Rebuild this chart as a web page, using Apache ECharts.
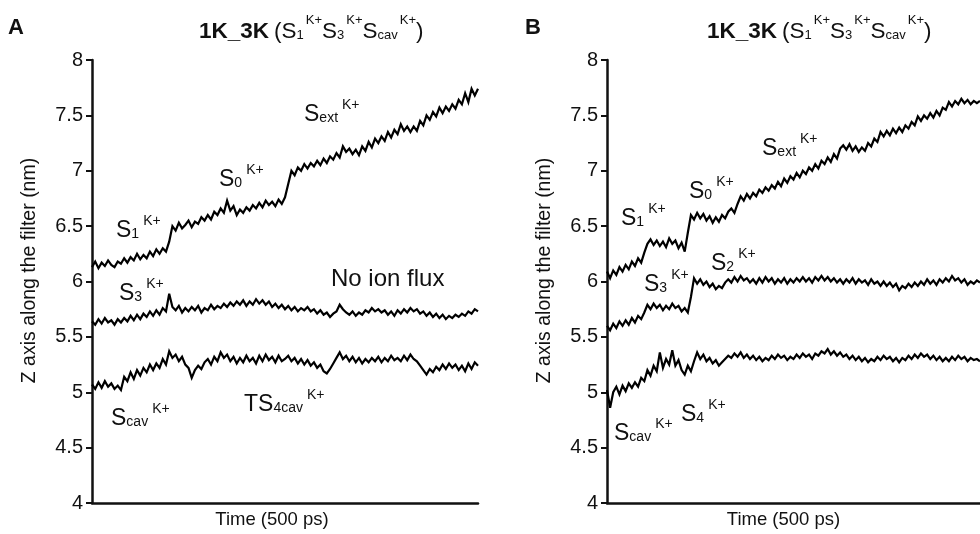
<!DOCTYPE html>
<html>
<head>
<meta charset="utf-8">
<script src="https://cdn.jsdelivr.net/npm/echarts@6/dist/echarts.min.js"></script>
<style>
  html, body { margin: 0; padding: 0; background: #fff; }
  #chart { width: 980px; height: 534px; }
</style>
</head>
<body>
<div id="chart"></div>
<script>
// ---------------- data ----------------
// Each trace: z position (nm) sampled evenly along the 500 ps time window
var yTicks = ['4', '4.5', '5', '5.5', '6', '6.5', '7', '7.5', '8'];

// Panel A
var A_top = [6.13,6.18,6.12,6.17,6.14,6.19,6.15,6.13,6.18,6.16,
  6.21,6.17,6.22,6.19,6.25,6.2,6.24,6.21,6.27,6.23,
  6.29,6.25,6.3,6.27,6.36,6.5,6.46,6.53,6.48,6.51,
  6.55,6.49,6.54,6.52,6.58,6.55,6.6,6.56,6.63,6.6,
  6.66,6.62,6.73,6.64,6.68,6.6,6.65,6.62,6.67,6.64,
  6.69,6.66,6.71,6.67,6.73,6.69,6.72,6.68,6.74,6.7,
  6.76,6.88,7.0,6.96,7.03,7.0,7.06,7.02,7.07,7.04,
  7.09,7.05,7.11,7.07,7.13,7.1,7.16,7.12,7.22,7.17,
  7.2,7.15,7.19,7.14,7.22,7.18,7.26,7.21,7.29,7.25,
  7.31,7.27,7.35,7.3,7.37,7.33,7.42,7.36,7.4,7.35,
  7.4,7.36,7.45,7.41,7.5,7.46,7.53,7.49,7.57,7.52,
  7.58,7.54,7.6,7.56,7.64,7.6,7.7,7.62,7.74,7.68,
  7.74];
var A_mid = [5.64,5.61,5.66,5.62,5.67,5.63,5.65,5.61,5.66,5.63,
  5.67,5.64,5.69,5.65,5.7,5.66,5.71,5.68,5.73,5.69,
  5.74,5.7,5.76,5.73,5.89,5.77,5.74,5.78,5.72,5.76,
  5.73,5.77,5.74,5.78,5.72,5.76,5.74,5.79,5.75,5.78,
  5.76,5.8,5.77,5.81,5.78,5.82,5.79,5.83,5.78,5.82,
  5.79,5.84,5.8,5.83,5.79,5.82,5.77,5.8,5.76,5.79,
  5.75,5.78,5.74,5.77,5.73,5.76,5.74,5.77,5.73,5.75,
  5.71,5.74,5.7,5.72,5.68,5.71,5.73,5.79,5.75,5.72,
  5.7,5.73,5.69,5.72,5.7,5.74,5.72,5.76,5.73,5.75,
  5.72,5.74,5.7,5.73,5.69,5.74,5.71,5.75,5.72,5.76,
  5.73,5.75,5.71,5.73,5.69,5.72,5.68,5.71,5.67,5.7,
  5.66,5.69,5.67,5.7,5.68,5.71,5.69,5.73,5.71,5.75,
  5.73];
var A_bot = [5.07,5.03,5.09,5.04,5.1,5.05,5.08,5.03,5.06,5.02,
  5.14,5.1,5.18,5.12,5.2,5.15,5.22,5.18,5.25,5.2,
  5.26,5.22,5.3,5.25,5.37,5.31,5.34,5.28,5.32,5.25,
  5.22,5.13,5.2,5.24,5.21,5.27,5.3,5.25,5.32,5.28,
  5.36,5.31,5.34,5.28,5.32,5.26,5.31,5.27,5.33,5.28,
  5.31,5.26,5.33,5.28,5.34,5.29,5.32,5.27,5.33,5.28,
  5.3,5.33,5.28,5.31,5.26,5.3,5.25,5.29,5.24,5.27,
  5.22,5.25,5.19,5.17,5.21,5.26,5.31,5.36,5.3,5.33,
  5.28,5.32,5.27,5.31,5.26,5.3,5.27,5.31,5.28,5.32,
  5.27,5.31,5.28,5.33,5.29,5.31,5.28,5.33,5.29,5.34,
  5.3,5.28,5.24,5.2,5.16,5.21,5.18,5.23,5.2,5.25,
  5.21,5.26,5.22,5.25,5.2,5.24,5.19,5.26,5.21,5.27,
  5.24];

// Panel B
var B_top = [6.09,6.03,6.1,6.06,6.13,6.09,6.15,6.11,6.18,6.14,
  6.21,6.17,6.26,6.34,6.38,6.33,6.37,6.32,6.36,6.31,
  6.39,6.34,6.37,6.3,6.35,6.27,6.44,6.6,6.56,6.62,
  6.57,6.61,6.55,6.59,6.53,6.58,6.54,6.6,6.57,6.63,
  6.66,6.62,6.7,6.77,6.73,6.79,6.75,6.8,6.77,6.83,
  6.8,6.85,6.82,6.87,6.84,6.9,6.86,6.93,6.89,6.95,
  6.92,6.98,6.94,7.0,6.97,7.03,7.0,7.06,7.02,7.09,
  7.06,7.12,7.08,7.15,7.11,7.2,7.23,7.19,7.24,7.18,
  7.22,7.17,7.21,7.18,7.25,7.22,7.29,7.26,7.35,7.31,
  7.36,7.32,7.38,7.34,7.39,7.35,7.41,7.38,7.44,7.41,
  7.49,7.45,7.5,7.47,7.52,7.48,7.54,7.5,7.57,7.55,
  7.62,7.58,7.63,7.6,7.65,7.61,7.64,7.6,7.63,7.61,
  7.63];
var B_mid = [5.6,5.56,5.62,5.58,5.64,5.6,5.65,5.61,5.67,5.63,
  5.69,5.66,5.72,5.79,5.75,5.8,5.76,5.79,5.74,5.78,
  5.75,5.8,5.76,5.78,5.73,5.76,5.72,5.86,6.03,5.98,
  6.02,5.97,6.0,5.95,5.98,5.93,5.96,5.94,5.99,6.02,
  5.99,6.04,6.0,6.05,6.01,6.03,5.99,6.02,5.98,6.03,
  5.99,6.04,6.0,6.03,5.98,6.02,5.99,6.03,5.98,6.02,
  5.99,6.03,6.0,6.04,6.0,6.03,5.99,6.04,6.01,6.05,
  6.01,6.04,6.0,6.03,5.99,6.02,5.98,6.02,5.99,6.03,
  5.98,6.02,5.99,6.01,5.97,6.02,5.98,6.0,5.96,6.0,
  5.96,5.99,5.95,5.98,5.92,5.96,5.94,5.98,5.95,5.99,
  5.96,6.0,5.97,6.02,5.98,6.01,5.97,6.02,5.99,6.03,
  6.0,6.05,6.01,6.03,5.99,6.02,5.97,6.0,5.98,6.01,
  5.99];
var B_bot = [5.02,4.86,5.0,5.05,4.98,5.06,5.01,5.08,5.04,5.09,
  5.05,5.13,5.1,5.2,5.15,5.24,5.19,5.36,5.22,5.3,
  5.25,5.38,5.24,5.29,5.2,5.16,5.24,5.19,5.28,5.36,
  5.3,5.34,5.28,5.31,5.26,5.29,5.24,5.27,5.3,5.33,
  5.31,5.35,5.32,5.36,5.31,5.34,5.3,5.33,5.29,5.32,
  5.28,5.31,5.29,5.33,5.3,5.34,5.31,5.33,5.29,5.32,
  5.3,5.34,5.31,5.35,5.32,5.34,5.3,5.35,5.33,5.37,
  5.35,5.39,5.34,5.37,5.33,5.36,5.32,5.34,5.3,5.33,
  5.29,5.32,5.28,5.31,5.27,5.3,5.28,5.32,5.29,5.33,
  5.3,5.32,5.28,5.31,5.27,5.31,5.29,5.33,5.3,5.34,
  5.31,5.35,5.32,5.34,5.3,5.33,5.29,5.32,5.28,5.31,
  5.28,5.32,5.29,5.33,5.3,5.32,5.28,5.31,5.29,5.3,
  5.28];

var timeSpan = 500; // ps
var panelTitle = '1K_3K';

// ---------------- chart ----------------
function pairs(arr) {
  var n = arr.length - 1;
  return arr.map(function (v, i) { return [i * timeSpan / n, v]; });
}

var FONT = '"Liberation Sans", Arial, sans-serif';
var INK = '#111';

var subRich = {
  s: { fontSize: 23, fontWeight: 'normal', fontFamily: FONT, color: INK, lineHeight: 30, verticalAlign: 'bottom' },
  b: { fontSize: 14, fontWeight: 'normal', fontFamily: FONT, color: INK, lineHeight: 14, verticalAlign: 'bottom', padding: [0, 1, 1, 0] },
  p: { fontSize: 14, fontWeight: 'normal', fontFamily: FONT, color: INK, lineHeight: 14, verticalAlign: 'top', padding: [2, 0, 0, 3] },
  n: { fontSize: 24, fontWeight: 'normal', fontFamily: FONT, color: INK, lineHeight: 30 }
};
var titleRich = {
  h: { fontSize: 22.5, fontWeight: 'bold', fontFamily: FONT, color: INK, lineHeight: 30, verticalAlign: 'bottom' },
  n: { fontSize: 22.5, fontWeight: 'normal', fontFamily: FONT, color: INK, lineHeight: 30, verticalAlign: 'bottom' },
  b: { fontSize: 13, fontWeight: 'normal', fontFamily: FONT, color: INK, lineHeight: 13, verticalAlign: 'bottom', padding: [0, 0, 1, 0] },
  p: { fontSize: 13, fontWeight: 'normal', fontFamily: FONT, color: INK, lineHeight: 13, verticalAlign: 'top', padding: [1, 0, 0, 2] }
};

function label(text, left, top) {
  return { text: text, left: left, top: top, padding: 0, itemGap: 0,
    textStyle: { rich: subRich, fontWeight: 'normal', fontFamily: FONT, color: INK } };
}
function head(left, top) {
  return { text: '{h|' + panelTitle + '} {n|(S}{b|1}{p|K+}{n|S}{b|3}{p|K+}{n|S}{b|cav}{p|K+}{n|)}',
    left: left, top: top, padding: 0,
    textStyle: { rich: titleRich, fontWeight: 'normal', fontFamily: FONT } };
}

var titles = [
  { text: 'A', left: 8, top: 17, padding: 0, textStyle: { fontSize: 22, fontWeight: 'bold', fontFamily: FONT, color: INK } },
  { text: 'B', left: 525, top: 17, padding: 0, textStyle: { fontSize: 22, fontWeight: 'bold', fontFamily: FONT, color: INK } },
  head(199, 13),
  head(707, 13),
  // panel A annotations
  label('{s|S}{b|1}{p|K+}', 116, 212),
  label('{s|S}{b|0}{p|K+}', 219, 161),
  label('{s|S}{b|ext}{p|K+}', 304, 96),
  label('{s|S}{b|3}{p|K+}', 119, 275),
  label('{s|S}{b|cav}{p|K+}', 111, 400),
  label('{s|TS}{b|4cav}{p|K+}', 244, 386),
  label('{n|No ion flux}', 331, 264),
  // panel B annotations
  label('{s|S}{b|1}{p|K+}', 621, 200),
  label('{s|S}{b|0}{p|K+}', 689, 173),
  label('{s|S}{b|ext}{p|K+}', 762, 130),
  label('{s|S}{b|3}{p|K+}', 644, 266),
  label('{s|S}{b|2}{p|K+}', 711, 245),
  label('{s|S}{b|cav}{p|K+}', 614, 415),
  label('{s|S}{b|4}{p|K+}', 681, 396)
];

function xAxisFor(idx, padRight) {
  return {
    type: 'value', gridIndex: idx, min: 0, max: timeSpan,
    name: 'Time (500 ps)', nameLocation: 'middle', nameGap: 7,
    nameTextStyle: { fontSize: 18.5, fontFamily: FONT, color: INK, padding: [0, padRight, 0, 0], verticalAlign: 'top' },
    axisLine: { show: true, lineStyle: { color: INK, width: 2.5 } },
    axisTick: { show: false }, axisLabel: { show: false }, splitLine: { show: false }
  };
}
function yAxisFor(idx) {
  return {
    type: 'value', gridIndex: idx, min: 4, max: 8, interval: 0.5,
    name: 'Z axis along the filter (nm)', nameLocation: 'middle', nameGap: 52,
    nameTextStyle: { fontSize: 19.5, fontFamily: FONT, color: INK, padding: [0, 0, 0, 22] },
    axisLine: { show: true, lineStyle: { color: INK, width: 2.5 } },
    axisTick: { show: true, length: 6, lineStyle: { color: INK, width: 2 } },
    axisLabel: { fontSize: 20, fontFamily: FONT, color: INK, margin: 9,
      formatter: function (v) { var s = String(v); return yTicks.indexOf(s) >= 0 ? s : ''; } },
    splitLine: { show: false }
  };
}
function trace(arr, idx) {
  return {
    type: 'line', xAxisIndex: idx, yAxisIndex: idx, data: pairs(arr),
    showSymbol: false, symbol: 'none', smooth: false,
    lineStyle: { color: '#000', width: 2.2, join: 'miter', miterLimit: 4 }, silent: true
  };
}

var chart = echarts.init(document.getElementById('chart'), null, { renderer: 'canvas' });
chart.setOption({
  animation: false,
  backgroundColor: '#fff',
  title: titles,
  grid: [
    { left: 92, top: 60, width: 386, height: 447, containLabel: false },
    { left: 607, top: 60, width: 386, height: 447, containLabel: false }
  ],
  xAxis: [xAxisFor(0, 26), xAxisFor(1, 20)],
  yAxis: [yAxisFor(0), yAxisFor(1)],
  series: [
    trace(A_top, 0), trace(A_mid, 0), trace(A_bot, 0),
    trace(B_top, 1), trace(B_mid, 1), trace(B_bot, 1)
  ]
});
</script>
</body>
</html>
